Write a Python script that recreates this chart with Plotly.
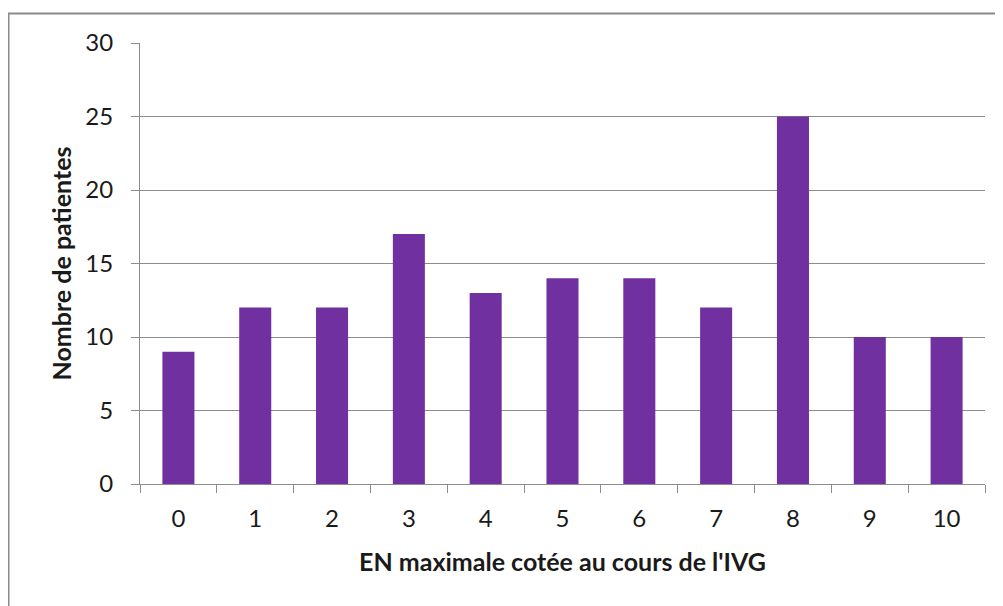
import plotly.graph_objects as go

categories = ["0", "1", "2", "3", "4", "5", "6", "7", "8", "9", "10"]
patients = [9, 12, 12, 17, 13, 14, 14, 12, 25, 10, 10]
y_ticks = [0, 5, 10, 15, 20, 25, 30]

FONT = "Lato, 'Open Sans', sans-serif"
GRID = "#8c8c8c"

fig = go.Figure(go.Bar(x=categories, y=patients, marker=dict(color="#7030A0", line=dict(width=0))))

fig.update_layout(
    width=1003, height=606,
    margin=dict(l=132, r=26, t=35, b=130),
    paper_bgcolor="white", plot_bgcolor="white",
    bargap=0.583,
    showlegend=False,
    font=dict(family=FONT, size=24, color="#1a1a1a"),
    xaxis=dict(
        type="category", tickson="boundaries", ticks="outside", ticklen=8,
        tickcolor=GRID, showline=True, linecolor=GRID, linewidth=1,
        showgrid=False, tickfont=dict(size=24), ticklabelstandoff=13,
        title=dict(text="<b>EN maximale cotée au cours de l'IVG</b>", font=dict(size=25), standoff=22),
    ),
    yaxis=dict(
        range=[0, 30], tickvals=y_ticks, ticks="outside", ticklen=8,
        tickcolor=GRID, showline=True, linecolor=GRID, linewidth=1,
        showgrid=True, gridcolor=GRID, gridwidth=1, zeroline=False,
        tickfont=dict(size=24), ticklabelstandoff=13,
        title=dict(text="<b>Nombre de patientes</b>", font=dict(size=25), standoff=6),
    ),
    shapes=[dict(type="rect", xref="paper", yref="paper",
                 x0=(8.5 - 140) / 845, x1=1.2, y0=-0.5, y1=(484 - 13.5) / 441,
                 line=dict(color="#8a8a8a", width=2), fillcolor="rgba(0,0,0,0)", layer="below")],
)

fig.write_html("out.html")
